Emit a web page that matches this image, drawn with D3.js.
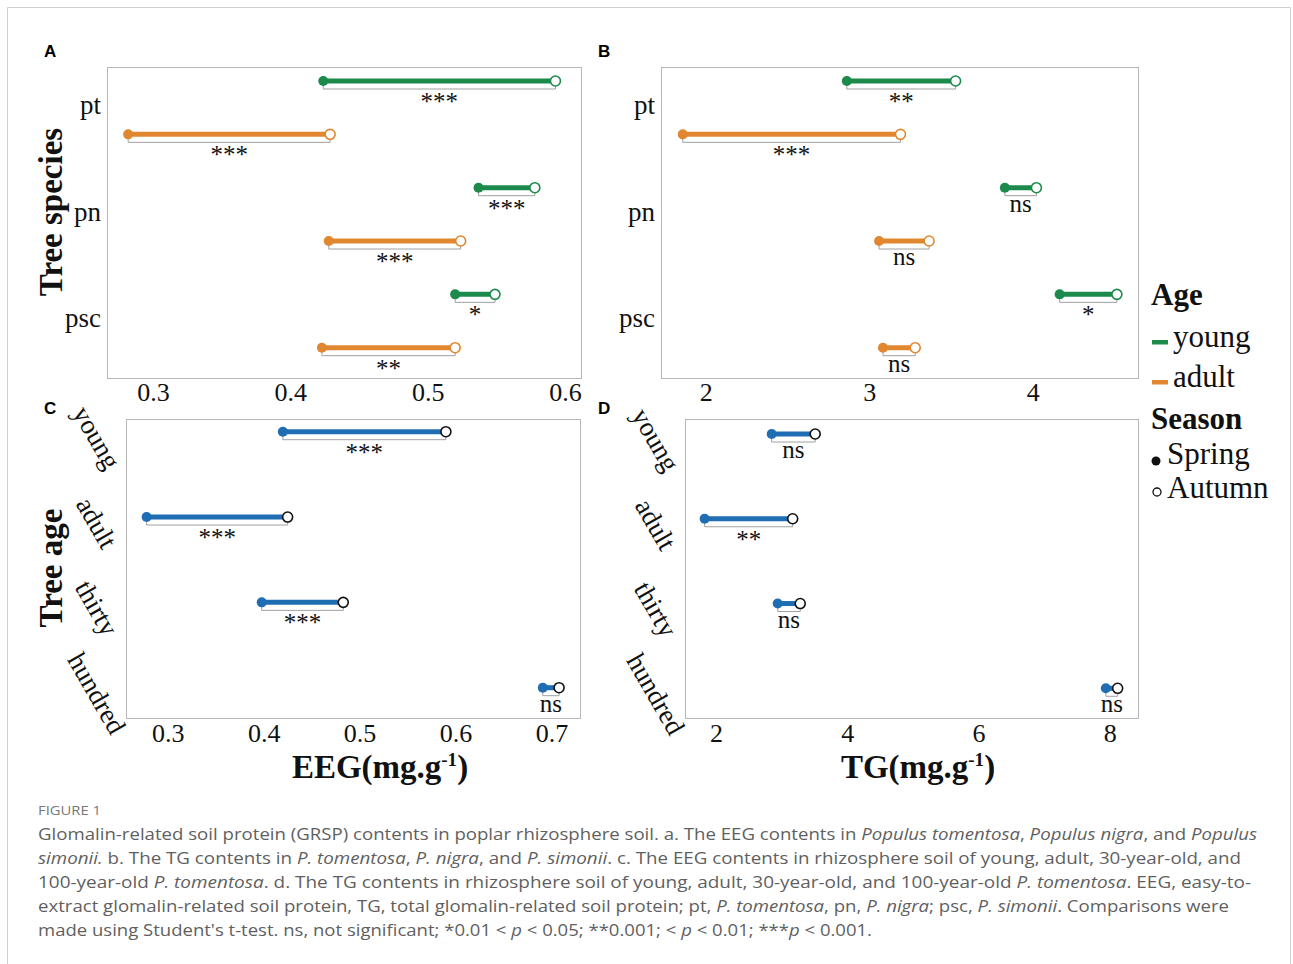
<!DOCTYPE html>
<html>
<head>
    <title>GRSP dumbbell</title>
    <script src="https://d3js.org/d3.v7.min.js"></script>
    <style>
        body { margin: 0; background: #fff; }
        svg { display: block; }
        .serif { font-family: 'Liberation Serif', 'Times New Roman', serif; fill: #111; }
    </style>
</head>
<body>
<div id="chart"></div>
<script>
    // ---- data ----
    const species = ["pt", "pn", "psc"];
    // rows: pt-young, pt-adult, pn-young, pn-adult, psc-young, psc-adult
    const speciesRows = ["pt-young", "pt-adult", "pn-young", "pn-adult", "psc-young", "psc-adult"];
    const eegSpeciesSpring = [0.424, 0.282, 0.537, 0.428, 0.520, 0.423];
    const eegSpeciesAutumn = [0.593, 0.429, 0.578, 0.524, 0.549, 0.520];
    const eegSpeciesSig = ["***", "***", "***", "***", "*", "**"];
    const tgSpeciesSpring = [2.863, 1.860, 3.829, 3.060, 4.164, 3.084];
    const tgSpeciesAutumn = [3.528, 3.191, 4.022, 3.366, 4.514, 3.281];
    const tgSpeciesSig = ["**", "***", "ns", "ns", "*", "ns"];

    const treeAges = ["young", "adult", "thirty", "hundred"];
    const eegAgeSpring = [0.420, 0.278, 0.398, 0.691];
    const eegAgeAutumn = [0.590, 0.425, 0.483, 0.708];
    const eegAgeSig = ["***", "***", "***", "ns"];
    const tgAgeSpring = [2.848, 1.826, 2.940, 7.940];
    const tgAgeAutumn = [3.511, 3.168, 3.283, 8.120];
    const tgAgeSig = ["ns", "**", "ns", "ns"];

    const eegSpeciesTicks = [0.3, 0.4, 0.5, 0.6];
    const tgSpeciesTicks = [2, 3, 4];
    const eegAgeTicks = [0.3, 0.4, 0.5, 0.6, 0.7];
    const tgAgeTicks = [2, 4, 6, 8];

    const green = "#1b8a4b", orange = "#e0872f", blue = "#1f6db3";
    const width = 1293, height = 964;

    const svg = d3.select("#chart").append("svg")
        .attr("width", width).attr("height", height);

    // outer frame
    svg.append("path")
        .attr("d", `M7.5,975V7.5H1290.5V975`)
        .attr("fill", "none").attr("stroke", "#cfcfcf");

    function drawPanel(p) {
        const g = svg.append("g");
        const x = d3.scaleLinear().domain(p.domain).range([p.x0, p.x1]);
        const y = d3.scalePoint().domain(p.rows).range(p.rowRange);

        g.append("rect")
            .attr("x", p.x0 + 0.5).attr("y", p.y0 + 0.5)
            .attr("width", p.x1 - p.x0).attr("height", p.y1 - p.y0)
            .attr("fill", "none").attr("stroke", "#b8b8b8");

        // x tick labels
        const xa = g.append("g")
            .attr("transform", `translate(0,${p.y1})`)
            .call(d3.axisBottom(x).tickValues(p.ticks).tickSize(0).tickPadding(p.tickPad).tickFormat(p.fmt));
        xa.select(".domain").remove();
        xa.selectAll("text").attr("class", "serif").attr("font-size", 26).attr("font-family", null);

        // category labels
        const cat = d3.scalePoint().domain(p.cats).range(p.catRange);
        const ya = g.append("g")
            .attr("transform", `translate(${p.x0},0)`)
            .call(d3.axisLeft(cat).tickSize(0).tickPadding(6));
        ya.select(".domain").remove();
        ya.selectAll("text").attr("class", "serif").attr("font-size", 27).attr("font-family", null);
        if (p.rotateCats) {
            ya.selectAll("text")
                .attr("text-anchor", "middle")
                .attr("x", -29).attr("y", 5).attr("dy", "0.35em")
                .attr("transform", "rotate(60,-29,5)");
        } else {
            ya.selectAll("text").attr("dy", "0.22em");
        }

        const data = p.rows.map((r, i) => ({
            row: r, s: p.spring[i], a: p.autumn[i], sig: p.sig[i], color: p.colors[i]
        }));
        const items = g.selectAll(".item").data(data).join("g").attr("class", "item");

        items.append("path")
            .attr("d", d => {
                const yy = y(d.row);
                return `M${x(d.s)},${yy + 2}V${yy + 8}H${x(d.a)}V${yy + 2}`;
            })
            .attr("fill", "none").attr("stroke", "#a0a0a0").attr("stroke-width", 1);

        items.append("line")
            .attr("x1", d => x(d.s)).attr("x2", d => x(d.a))
            .attr("y1", d => y(d.row)).attr("y2", d => y(d.row))
            .attr("stroke", d => d.color).attr("stroke-width", 5);

        items.append("circle")
            .attr("cx", d => x(d.s)).attr("cy", d => y(d.row)).attr("r", 5)
            .attr("fill", d => d.color);

        items.append("circle")
            .attr("cx", d => x(d.a)).attr("cy", d => y(d.row)).attr("r", 5)
            .attr("fill", "#fff")
            .attr("stroke", d => p.openStroke || d.color).attr("stroke-width", 1.6);

        items.append("text")
            .attr("class", "serif")
            .attr("x", d => (x(d.s) + x(d.a)) / 2)
            .attr("y", d => y(d.row) + (d.sig === "ns" ? 24 : 29))
            .attr("text-anchor", "middle")
            .attr("font-size", 25)
            .text(d => d.sig);

        // panel letter
        svg.append("text")
            .attr("x", p.letterX).attr("y", p.letterY)
            .attr("font-family", "Liberation Sans, Arial, sans-serif")
            .attr("font-weight", "bold").attr("font-size", 17)
            .text(p.letter);
    }

    const fmt1 = d3.format(".1f");
    const fmt0 = d3.format("d");

    drawPanel({
        letter: "A", letterX: 44, letterY: 57,
        x0: 107, x1: 581, y0: 67, y1: 378,
        domain: [0.2666, 0.6116], ticks: eegSpeciesTicks, fmt: fmt1, tickPad: 5,
        rows: speciesRows, rowRange: [81, 347.7],
        cats: species, catRange: [107.7, 321],
        spring: eegSpeciesSpring, autumn: eegSpeciesAutumn, sig: eegSpeciesSig,
        colors: speciesRows.map(r => r.endsWith("young") ? green : orange)
    });
    drawPanel({
        letter: "B", letterX: 598, letterY: 57,
        x0: 661, x1: 1138, y0: 67, y1: 378,
        domain: [1.727, 4.643], ticks: tgSpeciesTicks, fmt: fmt0, tickPad: 5,
        rows: speciesRows, rowRange: [81, 347.7],
        cats: species, catRange: [107.7, 321],
        spring: tgSpeciesSpring, autumn: tgSpeciesAutumn, sig: tgSpeciesSig,
        colors: speciesRows.map(r => r.endsWith("young") ? green : orange)
    });
    drawPanel({
        letter: "C", letterX: 44, letterY: 414,
        x0: 126, x1: 580, y0: 419, y1: 718,
        domain: [0.2565, 0.7298], ticks: eegAgeTicks, fmt: fmt1, tickPad: 6,
        rows: treeAges, rowRange: [431.7, 687.7],
        cats: treeAges, catRange: [431.7, 687.7], rotateCats: true,
        spring: eegAgeSpring, autumn: eegAgeAutumn, sig: eegAgeSig,
        colors: treeAges.map(() => blue), openStroke: "#111"
    });
    drawPanel({
        letter: "D", letterX: 598, letterY: 414,
        x0: 685, x1: 1138, y0: 419, y1: 718,
        domain: [1.527, 8.43], ticks: tgAgeTicks, fmt: fmt0, tickPad: 6,
        rows: treeAges, rowRange: [434, 688.3],
        cats: treeAges, catRange: [434, 688.3], rotateCats: true,
        spring: tgAgeSpring, autumn: tgAgeAutumn, sig: tgAgeSig,
        colors: treeAges.map(() => blue), openStroke: "#111"
    });

    // axis titles
    function yTitle(txt, cx, cy) {
        svg.append("text").attr("class", "serif")
            .attr("transform", `translate(${cx},${cy}) rotate(-90)`)
            .attr("text-anchor", "middle").attr("dy", "0.35em")
            .attr("font-size", 33).attr("font-weight", "bold")
            .text(txt);
    }
    yTitle("Tree species", 50, 212);
    yTitle("Tree age", 50, 568);

    function xTitle(txt, cx, by) {
        const t = svg.append("text").attr("class", "serif")
            .attr("x", cx).attr("y", by).attr("text-anchor", "middle")
            .attr("font-size", 33).attr("font-weight", "bold");
        t.append("tspan").text(txt);
        t.append("tspan").attr("font-size", 19).attr("dy", -12).text("-1");
        t.append("tspan").attr("dy", 12).text(")");
    }
    xTitle("EEG(mg.g", 380, 778);
    xTitle("TG(mg.g", 918, 778);

    // legend
    const lg = svg.append("g").attr("class", "serif");
    lg.append("text").attr("x", 1151).attr("y", 305).attr("font-size", 31).attr("font-weight", "bold").text("Age");
    const ageLegend = [["young", green, 347], ["adult", orange, 387]];
    ageLegend.forEach(([lab, col, by]) => {
        lg.append("rect").attr("x", 1152).attr("y", by - 7).attr("width", 16).attr("height", 4.5).attr("fill", col);
        lg.append("text").attr("x", 1173).attr("y", by).attr("font-size", 31).text(lab);
    });
    lg.append("text").attr("x", 1151).attr("y", 429).attr("font-size", 31).attr("font-weight", "bold").text("Season");
    lg.append("circle").attr("cx", 1156).attr("cy", 461).attr("r", 4.5).attr("fill", "#111");
    lg.append("text").attr("x", 1167).attr("y", 464).attr("font-size", 31).text("Spring");
    lg.append("circle").attr("cx", 1157).attr("cy", 492).attr("r", 4).attr("fill", "#fff").attr("stroke", "#111").attr("stroke-width", 1.3);
    lg.append("text").attr("x", 1167).attr("y", 498).attr("font-size", 31).text("Autumn");

    // caption
    svg.append("text")
        .attr("x", 38).attr("y", 815)
        .attr("font-family", "'Open Sans', sans-serif").attr("font-size", 13.5)
        .attr("fill", "#777")
        .attr("textLength", 63).attr("lengthAdjust", "spacingAndGlyphs")
        .text("FIGURE 1");

    const captionLines = [
        [["Glomalin-related soil protein (GRSP) contents in poplar rhizosphere soil. a. The EEG contents in ", 0], ["Populus tomentosa", 1], [", ", 0], ["Populus nigra", 1], [", and ", 0], ["Populus", 1]],
        [["simonii.", 1], [" b. The TG contents in ", 0], ["P. tomentosa", 1], [", ", 0], ["P. nigra", 1], [", and ", 0], ["P. simonii", 1], [". c. The EEG contents in rhizosphere soil of young, adult, 30-year-old, and", 0]],
        [["100-year-old ", 0], ["P. tomentosa", 1], [". d. The TG contents in rhizosphere soil of young, adult, 30-year-old, and 100-year-old ", 0], ["P. tomentosa", 1], [". EEG, easy-to-", 0]],
        [["extract glomalin-related soil protein, TG, total glomalin-related soil protein; pt, ", 0], ["P. tomentosa", 1], [", pn, ", 0], ["P. nigra", 1], ["; psc, ", 0], ["P. simonii", 1], [". Comparisons were", 0]],
        [["made using Student's t-test. ns, not significant; *0.01 < ", 0], ["p", 1], [" < 0.05; **0.001; < ", 0], ["p", 1], [" < 0.01; ***", 0], ["p", 1], [" < 0.001.", 0]]
    ];
    const captionEnds = [1257, 1241, 1251, 1229, 872];
    const captionBase = [840, 864, 888, 912, 936];

    captionLines.forEach((segs, i) => {
        const t = svg.append("text")
            .attr("x", 38).attr("y", captionBase[i])
            .attr("font-family", "'Open Sans', sans-serif").attr("font-size", 16.5)
            .attr("fill", "#5f5f5f")
            .attr("textLength", captionEnds[i] - 38)
            .attr("lengthAdjust", "spacingAndGlyphs");
        segs.forEach(([s, it]) => {
            t.append("tspan").attr("font-style", it ? "italic" : "normal").text(s);
        });
    });
</script>
</body>
</html>
